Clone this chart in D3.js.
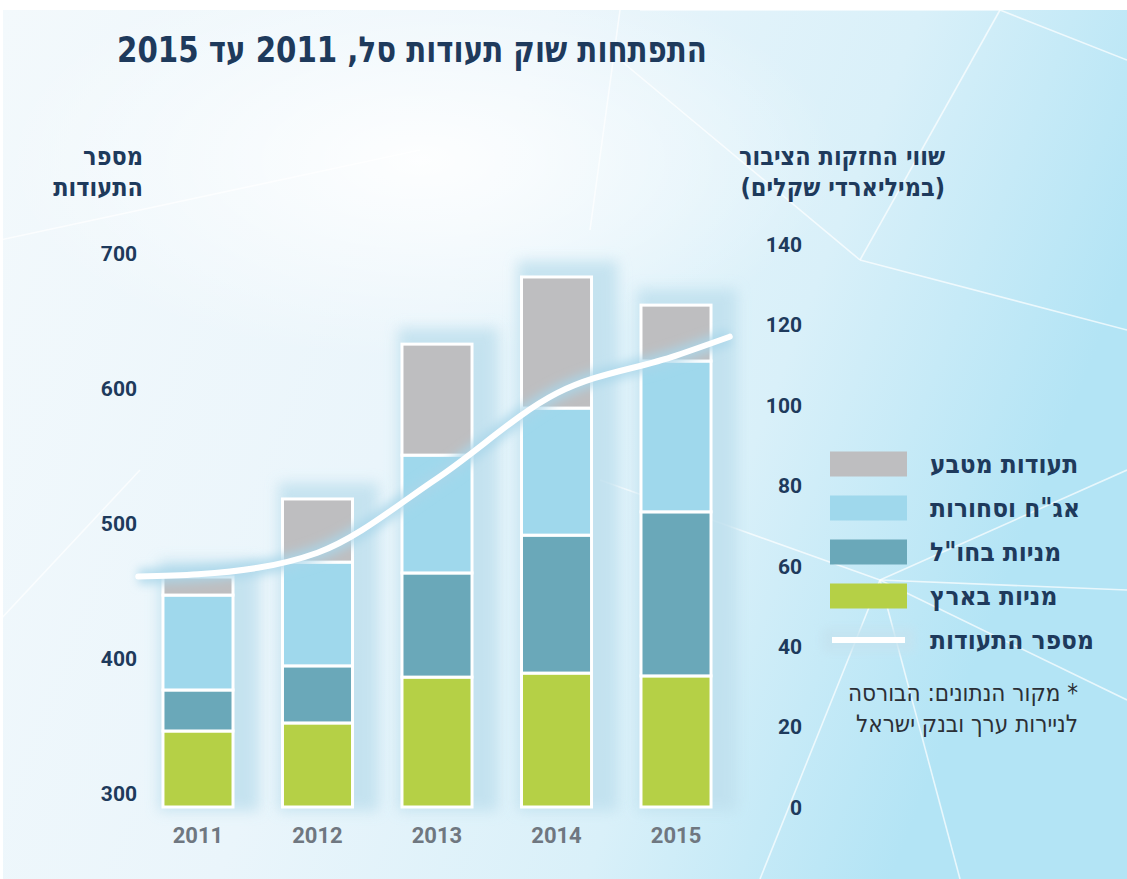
<!DOCTYPE html>
<html>
<head>
<meta charset="utf-8">
<script src="https://cdn.jsdelivr.net/npm/d3@7"></script>
<style>
  body { margin: 0; background: #fff; }
  svg { display: block; }
</style>
</head>
<body>
<div id="chart"></div>
<script>
// values (billions NIS, stacked) and number of ETFs
const years = ["2011", "2012", "2013", "2014", "2015"];
const localStocks = [18.9, 20.9, 32.3, 33.3, 32.6];      // מניות בארץ
const foreignStocks = [10.2, 14.2, 25.9, 34.3, 40.8];    // מניות בחו"ל
const bondsCommodities = [23.6, 25.8, 29.3, 31.6, 37.5]; // אג"ח וסחורות
const currency = [4.5, 15.7, 27.6, 32.6, 13.9];          // תעודות מטבע
const etfCount = [462, 478, 533, 596, 624];              // מספר התעודות

const leftTicks = [300, 400, 500, 600, 700];
const rightTicks = [0, 20, 40, 60, 80, 100, 120, 140];

const seriesKeys = ["local", "foreign", "bonds", "currency"];
const seriesLabels = {
  local: "מניות בארץ",
  foreign: "מניות בחו\"ל",
  bonds: "אג\"ח וסחורות",
  currency: "תעודות מטבע"
};
const colors = {
  local: "#b5d046",
  foreign: "#6aa8b9",
  bonds: "#9fd8ec",
  currency: "#bebec0"
};

const title = "התפתחות שוק תעודות סל, 2011 עד 2015";
const leftTitle = ["מספר", "התעודות"];
const rightTitle = ["שווי החזקות הציבור", "(במיליארדי שקלים)"];
const lineLabel = "מספר התעודות";
const note = ["* מקור הנתונים: הבורסה", "לניירות ערך ובנק ישראל"];

const W = 1127, H = 879;
const heb = "'Liberation Sans Narrow', 'DejaVu Sans Condensed', 'Liberation Sans', sans-serif";
const num = "Roboto, 'Liberation Sans', sans-serif";
const navy = "#1e3a5c";

const table = years.map((y, i) => ({
  year: y,
  local: localStocks[i],
  foreign: foreignStocks[i],
  bonds: bondsCommodities[i],
  currency: currency[i],
  count: etfCount[i]
}));

const svg = d3.select("#chart").append("svg")
  .attr("width", W)
  .attr("height", H);

const defs = svg.append("defs");

const bg = defs.append("linearGradient").attr("id", "bg")
  .attr("x1", 0).attr("y1", 0).attr("x2", 1).attr("y2", 0.3);
bg.append("stop").attr("offset", "0%").attr("stop-color", "#f3f9fc");
bg.append("stop").attr("offset", "45%").attr("stop-color", "#eaf5fb");
bg.append("stop").attr("offset", "75%").attr("stop-color", "#d9f0f9");
bg.append("stop").attr("offset", "100%").attr("stop-color", "#b3e4f5");

const glowR = defs.append("radialGradient").attr("id", "glow");
glowR.append("stop").attr("offset", "0%").attr("stop-color", "#ffffff").attr("stop-opacity", 0.9);
glowR.append("stop").attr("offset", "100%").attr("stop-color", "#ffffff").attr("stop-opacity", 0);

defs.append("filter").attr("id", "blur").attr("x", "-50%").attr("y", "-50%")
  .attr("width", "200%").attr("height", "200%")
  .append("feGaussianBlur").attr("stdDeviation", 7);
defs.append("filter").attr("id", "blurLine").attr("x", "-20%").attr("y", "-50%")
  .attr("width", "140%").attr("height", "200%")
  .append("feGaussianBlur").attr("stdDeviation", 5);

// background
svg.append("rect").attr("x", 3).attr("y", 10).attr("width", W - 3).attr("height", H - 10)
  .attr("fill", "url(#bg)");
svg.append("ellipse").attr("cx", 420).attr("cy", 160).attr("rx", 420).attr("ry", 200)
  .attr("fill", "url(#glow)");

// faint network lines (decoration)
const decor = [
  [1000, 10, 860, 260], [1000, 10, 1127, 60], [1000, 10, 640, 10],
  [880, 580, 1127, 470], [880, 580, 1127, 700], [880, 580, 760, 879],
  [880, 580, 960, 879], [880, 580, 600, 480], [880, 580, 1127, 590],
  [620, 10, 590, 230], [0, 240, 420, 150], [140, 470, 0, 620],
  [860, 260, 1127, 330], [860, 260, 620, 60]
];
svg.append("g").selectAll("line").data(decor).join("line")
  .attr("x1", d => d[0]).attr("y1", d => d[1])
  .attr("x2", d => d[2]).attr("y2", d => d[3])
  .attr("stroke", "#ffffff").attr("stroke-width", 1.6).attr("stroke-opacity", 0.7);

// scales
const x = d3.scaleBand().domain(years).range([113.5, 760.5]).padding(0.414);
const yR = d3.scaleLinear().domain([0, 140]).range([807, 244]);
const yL = d3.scaleLinear().domain([300, 700]).range([793, 253]);

const stacked = d3.stack().keys(seriesKeys)(table);

// soft halo behind each bar
svg.append("g").selectAll("rect").data(table).join("rect")
  .attr("x", d => x(d.year) - 4)
  .attr("y", d => yR(d.local + d.foreign + d.bonds + d.currency) - 16)
  .attr("width", x.bandwidth() + 30)
  .attr("height", d => yR(0) - yR(d.local + d.foreign + d.bonds + d.currency) + 20)
  .attr("fill", "#bfe0ee")
  .attr("opacity", 0.85)
  .attr("filter", "url(#blur)");

// stacked bars
svg.append("g").selectAll("g").data(stacked).join("g")
  .attr("fill", d => colors[d.key])
  .selectAll("rect").data(d => d).join("rect")
  .attr("x", d => x(d.data.year))
  .attr("y", d => yR(d[1]))
  .attr("width", x.bandwidth())
  .attr("height", d => yR(d[0]) - yR(d[1]))
  .attr("stroke", "#ffffff")
  .attr("stroke-width", 3);

// line for number of ETFs
const pts = table.map(d => [x(d.year) + x.bandwidth() / 2, yL(d.count)]);
const first = pts[0], second = pts[1];
const last = pts[pts.length - 1], prev = pts[pts.length - 2];
const ext = x.step() / 2;
const startPt = [first[0] - ext, first[1] - (second[1] - first[1]) * 0.1];
const endPt = [last[0] + ext * 0.9, last[1] + (last[1] - prev[1]) * 0.5];
const lineGen = d3.line().curve(d3.curveMonotoneX);
const linePts = [startPt, ...pts, endPt];

svg.append("path").attr("d", lineGen(linePts))
  .attr("fill", "none").attr("stroke", "#a9d6ea").attr("stroke-width", 16)
  .attr("stroke-opacity", 0.8).attr("filter", "url(#blurLine)");
svg.append("path").attr("d", lineGen(linePts))
  .attr("fill", "none").attr("stroke", "#ffffff").attr("stroke-width", 6)
  .attr("stroke-linecap", "round");

// axes
const leftAxis = svg.append("g").attr("transform", "translate(137,0)")
  .call(d3.axisLeft(yL).tickValues(leftTicks).tickSize(0).tickPadding(0));
const rightAxis = svg.append("g").attr("transform", "translate(802,0)")
  .call(d3.axisLeft(yR).tickValues(rightTicks).tickSize(0).tickPadding(0));
const bottomAxis = svg.append("g").attr("transform", "translate(0,827)")
  .call(d3.axisBottom(x).tickSize(0).tickPadding(0));

[leftAxis, rightAxis, bottomAxis].forEach(a => a.select(".domain").remove());
[leftAxis, rightAxis].forEach(a => a.selectAll("text")
  .attr("font-family", num).attr("font-weight", 700).attr("font-size", 21)
  .attr("fill", navy).attr("dy", "0.35em"));
bottomAxis.selectAll("text")
  .attr("font-family", num).attr("font-weight", 700).attr("font-size", 22)
  .attr("fill", "#6f7780").attr("dy", "0.72em");

// titles
function hebText(g, txt, xPos, yPos, size, weight, anchor) {
  return g.append("text")
    .attr("x", xPos).attr("y", yPos)
    .attr("direction", "rtl")
    .attr("text-anchor", anchor)
    .attr("font-family", heb)
    .attr("font-size", size)
    .attr("font-weight", weight)
    .attr("fill", navy)
    .text(txt);
}

hebText(svg, title, 707, 62, 36, 700, "start")
  .attr("textLength", 590).attr("lengthAdjust", "spacingAndGlyphs");
leftTitle.forEach((t, i) => hebText(svg, t, 143, 165 + i * 31, 25, 700, "start"));
rightTitle.forEach((t, i) => hebText(svg, t, 945, 165 + i * 31, 25, 700, "start"));

// legend
const legend = svg.append("g");
const legendKeys = seriesKeys.slice().reverse();
legendKeys.forEach((k, i) => {
  const cy = 464 + i * 44;
  legend.append("rect").attr("x", 830).attr("y", cy - 12.5)
    .attr("width", 77).attr("height", 25).attr("fill", colors[k]);
  hebText(legend, seriesLabels[k], 930, cy + 9, 26, 700, "end");
});
const lineY = 464 + 4 * 44;
legend.append("rect").attr("x", 822).attr("y", lineY - 12).attr("width", 92).attr("height", 24)
  .attr("fill", "#c4e3f0").attr("opacity", 0.8).attr("filter", "url(#blurLine)");
legend.append("line").attr("x1", 832).attr("x2", 905).attr("y1", lineY).attr("y2", lineY)
  .attr("stroke", "#ffffff").attr("stroke-width", 6);
hebText(legend, lineLabel, 930, lineY + 9, 26, 700, "end");

note.forEach((t, i) => hebText(svg, t, 1078, 701 + i * 31, 24, 400, "start").attr("fill", "#2b2f36"));
</script>
</body>
</html>
